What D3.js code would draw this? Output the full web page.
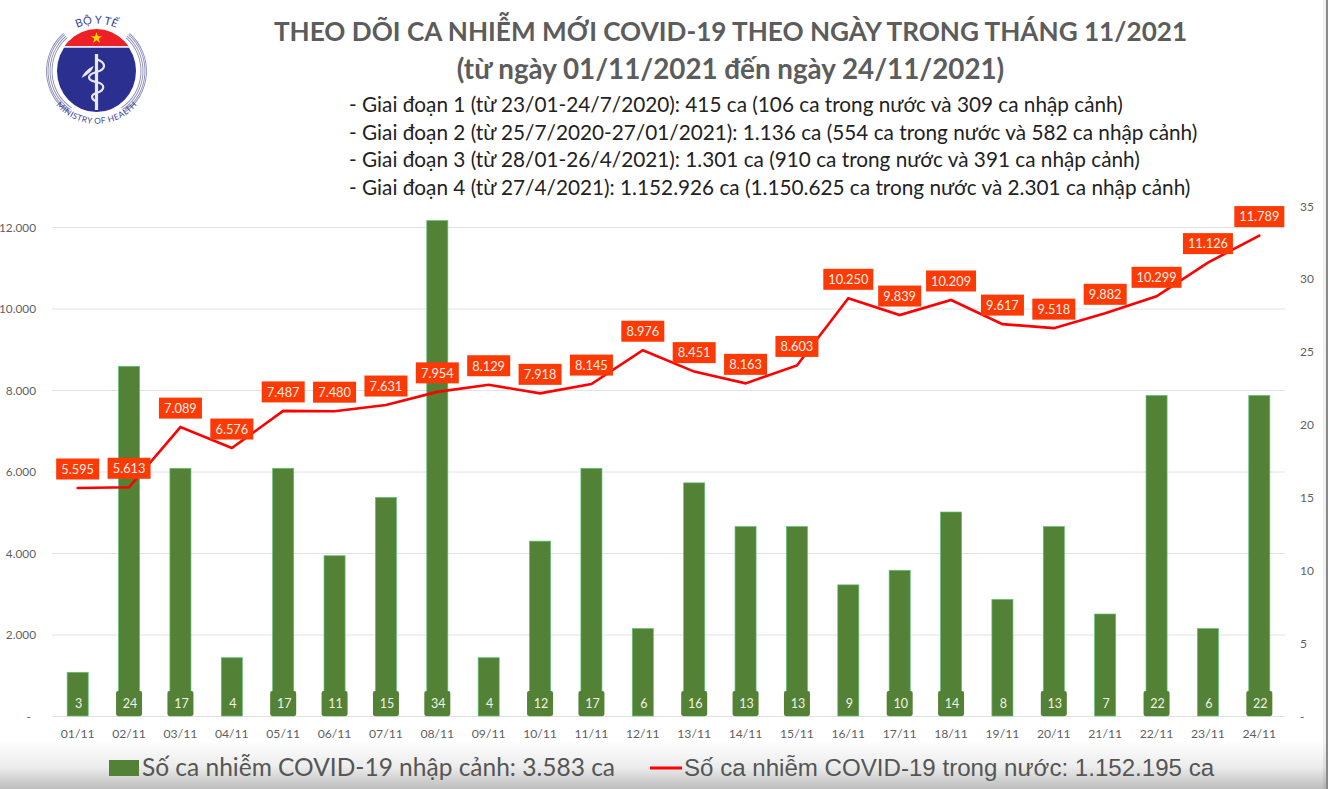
<!DOCTYPE html>
<html><head><meta charset="utf-8">
<script src="https://cdn.jsdelivr.net/npm/d3@7"></script>
<style>html,body{margin:0;padding:0;background:#fff}svg{display:block}text{font-family:Lato,"Noto Sans",sans-serif}</style>
</head><body><svg id="c" width="1328" height="789"></svg>
<script>
const days = ["01/11","02/11","03/11","04/11","05/11","06/11","07/11","08/11","09/11","10/11","11/11","12/11","13/11","14/11","15/11","16/11","17/11","18/11","19/11","20/11","21/11","22/11","23/11","24/11"];
const imported = [3,24,17,4,17,11,15,34,4,12,17,6,16,13,13,9,10,14,8,13,7,22,6,22];
const domestic = [5595,5613,7089,6576,7487,7480,7631,7954,8129,7918,8145,8976,8451,8163,8603,10250,9839,10209,9617,9518,9882,10299,11126,11789];
const leftTicks = [0,2000,4000,6000,8000,10000,12000];
const rightTicks = [0,5,10,15,20,25,30,35];
const titleLines = ["THEO DÕI CA NHIỄM MỚI COVID-19 THEO NGÀY TRONG THÁNG 11/2021","(từ ngày 01/11/2021 đến ngày 24/11/2021)"];
const titleSizes = [26.15,27.75];
const stages = ["- Giai đoạn 1 (từ 23/01-24/7/2020): 415 ca (106 ca trong nước và 309 ca nhập cảnh)",
"- Giai đoạn 2 (từ 25/7/2020-27/01/2021): 1.136 ca (554 ca trong nước và 582 ca nhập cảnh)",
"- Giai đoạn 3 (từ 28/01-26/4/2021): 1.301 ca (910 ca trong nước và 391 ca nhập cảnh)",
"- Giai đoạn 4 (từ 27/4/2021): 1.152.926 ca (1.150.625 ca trong nước và 2.301 ca nhập cảnh)"];
const legendBar = "Số ca nhiễm COVID-19 nhập cảnh: 3.583 ca";
const legendLine = "Số ca nhiễm COVID-19 trong nước: 1.152.195 ca";

const svg = d3.select("#c");
const fmt = v => v === 0 ? "-" : d3.format(",")(v).replace(/,/g,".");

// page shading along the bottom edge and the right border
const defs = svg.append("defs");
const g = defs.append("linearGradient").attr("id","fade").attr("x1",0).attr("x2",0).attr("y1",0).attr("y2",1);
g.append("stop").attr("offset",0).attr("stop-color","#fff");
g.append("stop").attr("offset",0.55).attr("stop-color","#ececec");
g.append("stop").attr("offset",1).attr("stop-color","#bdbdbd");
svg.append("rect").attr("x",0).attr("y",740).attr("width",1328).attr("height",49).attr("fill","url(#fade)");
svg.append("rect").attr("x",1323).attr("y",0).attr("width",3).attr("height",789).attr("fill","#000").attr("opacity",.06);
svg.append("rect").attr("x",1326).attr("y",0).attr("width",2).attr("height",789).attr("fill","#8a8a8a");

const x = d3.scaleBand().domain(days).range([52,1285]).paddingInner(0.59).paddingOuter(0.295);
const yR = d3.scaleLinear().domain([0,35]).range([716,206]);
const yL = d3.scaleLinear().domain([0,12000]).range([716,227]);
const cx = d => x(d)+x.bandwidth()/2;

// gridlines and value axes
svg.append("g").selectAll("line").data(leftTicks).join("line")
  .attr("x1",52).attr("x2",1285).attr("y1",d=>yL(d)+.5).attr("y2",d=>yL(d)+.5)
  .attr("stroke","#e2e2e2").attr("stroke-width",1);
svg.append("g").selectAll("text").data(leftTicks).join("text")
  .attr("x",d=>d===0?31:36).attr("y",d=>yL(d)+4.5).attr("text-anchor","end")
  .attr("font-size",11.8).attr("fill","#5f5f5f").text(fmt);
svg.append("g").selectAll("text").data(rightTicks).join("text")
  .attr("x",1300).attr("y",d=>yR(d)+4.5)
  .attr("font-size",12).attr("fill","#5f5f5f").text(d=>d===0?"-":d);
svg.append("g").selectAll("text").data(days).join("text")
  .attr("x",cx).attr("y",738).attr("text-anchor","middle")
  .attr("font-size",12.2).attr("fill","#5f5f5f").text(d=>d);

// imported cases as columns
svg.append("g").selectAll("rect").data(imported).join("rect")
  .attr("x",(d,i)=>x(days[i])).attr("width",x.bandwidth())
  .attr("y",d=>yR(d)).attr("height",d=>716-yR(d))
  .attr("fill","#538135").attr("stroke","#5fc27a").attr("stroke-width",.7);

// value chips at the foot of each column
const chips = svg.append("g").selectAll("g").data(imported).join("g")
  .attr("transform",(d,i)=>`translate(${cx(days[i])},0)`);
chips.filter(d=>d>=10).append("rect").attr("x",-13).attr("y",691).attr("width",26).attr("height",25).attr("rx",2)
  .attr("fill","#538135");
chips.append("text").attr("x",1).attr("y",707.5).attr("text-anchor","middle").attr("font-size",12.5)
  .attr("fill","#f2f2e6").text(d=>d);

// domestic cases as a line
const line = d3.line().x((d,i)=>cx(days[i])).y(d=>yL(d));
svg.append("path").datum(domestic).attr("d",line).attr("fill","none")
  .attr("stroke","#fe0000").attr("stroke-width",2.6).attr("stroke-linecap","round");

// value tags above the line
const tags = svg.append("g").selectAll("g").data(domestic).join("g")
  .attr("transform",(d,i)=>`translate(${cx(days[i])},${yL(d)-19})`);
tags.append("rect").attr("x",d=>d>=10000?-25:-21.5).attr("y",-10.5).attr("width",d=>d>=10000?50:43).attr("height",21)
  .attr("fill","#fc3a06");
tags.append("text").attr("y",4.8).attr("text-anchor","middle").attr("font-size",12.8).attr("fill","#fff0e6").text(fmt);

// headings
svg.append("g").selectAll("text").data(titleLines).join("text")
  .attr("x",730.5).attr("y",(d,i)=>41+i*37.5).attr("text-anchor","middle")
  .attr("font-size",(d,i)=>titleSizes[i]).attr("font-weight",700).attr("fill","#5c5c5c").text(d=>d);
svg.append("g").selectAll("text").data(stages).join("text")
  .attr("x",349).attr("y",(d,i)=>112+i*27.5)
  .attr("font-size",20.75).attr("fill","#222").text(d=>d);

// legend
svg.append("rect").attr("x",109).attr("y",760).attr("width",30).attr("height",16).attr("fill","#538135");
svg.append("text").attr("x",142).attr("y",776).attr("font-size",24.5).attr("fill","#555").text(legendBar);
svg.append("line").attr("x1",650).attr("x2",682).attr("y1",768).attr("y2",768).attr("stroke","#fe0000").attr("stroke-width",3);
svg.append("text").attr("x",684).attr("y",776).attr("font-size",24.1).attr("fill","#555")
  .style("font-family","'Liberation Sans',Arial,sans-serif").text(legendLine);

// ministry emblem
const e = svg.append("g").attr("transform","translate(96.5,71)");
e.append("ellipse").attr("rx",39.5).attr("ry",41).attr("fill","#2b2f8f");
e.append("clipPath").attr("id","cap").append("rect").attr("x",-50).attr("y",-50).attr("width",100).attr("height",25);
e.append("ellipse").attr("rx",39.5).attr("ry",42).attr("fill","#ee2027").attr("clip-path","url(#cap)");
e.append("rect").attr("x",-33).attr("y",-25).attr("width",66).attr("height",1.8).attr("fill","#e8e8f4");
e.append("path").attr("transform","translate(0,-33)")
  .attr("d",d3.symbol(d3.symbolStar,40)()).attr("fill","#ffd800");
[44.5,46.5,48.5,50].forEach(r=>{
  const arc = d3.arc().innerRadius(r-.45).outerRadius(r+.45);
  [[-2.55,-.72],[.72,2.55]].forEach(([a,b])=>e.append("path").attr("d",arc({startAngle:a,endAngle:b})).attr("fill","#8a8cb8"));
});
e.append("rect").attr("x",-1.6).attr("y",-17).attr("width",3.2).attr("height",56).attr("fill","#e8e8f4");
e.append("path").attr("d","M0,-12 C10,-8 10,-2 0,1 C-10,4 -10,9 0,11 C9,13 9,19 0,22 C-7,24 -5,29 1,31")
  .attr("fill","none").attr("stroke","#e8e8f4").attr("stroke-width",2.2);
e.append("path").attr("d","M-15,7 C-12,0 -7,-3 -3,-5 C-4,0 -8,3 -15,7").attr("fill","#e8e8f4");
e.append("path").attr("id","tp").attr("d","M-40,-25 A47,47 0 0 1 40,-25").attr("fill","none");
e.append("path").attr("id","bp").attr("d","M-42,23 A48,48 0 0 0 42,23").attr("fill","none");
e.append("text").attr("font-size",11).attr("fill","#3a3e96").append("textPath").attr("href","#tp").attr("startOffset","50%").attr("text-anchor","middle").text("BỘ Y TẾ");
e.append("text").attr("font-size",8.2).attr("fill","#3a3e96").attr("dy",5).append("textPath").attr("href","#bp").attr("startOffset","50%").attr("text-anchor","middle").text("MINISTRY OF HEALTH");
</script></body></html>
